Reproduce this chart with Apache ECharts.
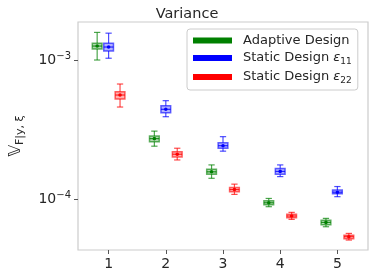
<!DOCTYPE html>
<html><head><meta charset="utf-8">
<script src="https://cdn.jsdelivr.net/npm/echarts@6/dist/echarts.min.js"></script>
<style>html,body{margin:0;padding:0;background:#fff}#c{width:374px;height:279px}</style>
</head><body><div id="c"></div>
<script>
// categories
const categories = [1, 2, 3, 4, 5];
// each entry: [whiskerLow, q1, median, q3, whiskerHigh]
const adaptive = [
  [1.00e-3, 1.20e-3, 1.26e-3, 1.32e-3, 1.58e-3],
  [2.40e-4, 2.58e-4, 2.72e-4, 2.84e-4, 3.08e-4],
  [1.41e-4, 1.51e-4, 1.57e-4, 1.64e-4, 1.76e-4],
  [8.81e-5, 9.10e-5, 9.40e-5, 9.72e-5, 1.01e-4],
  [6.32e-5, 6.53e-5, 6.79e-5, 7.03e-5, 7.26e-5]
];
const static11 = [
  [1.03e-3, 1.16e-3, 1.24e-3, 1.32e-3, 1.56e-3],
  [3.91e-4, 4.18e-4, 4.42e-4, 4.69e-4, 5.10e-4],
  [2.21e-4, 2.32e-4, 2.42e-4, 2.54e-4, 2.81e-4],
  [1.45e-4, 1.51e-4, 1.58e-4, 1.66e-4, 1.76e-4],
  [1.04e-4, 1.09e-4, 1.12e-4, 1.16e-4, 1.23e-4]
];
const static22 = [
  [4.59e-4, 5.24e-4, 5.60e-4, 5.92e-4, 6.72e-4],
  [1.91e-4, 2.01e-4, 2.10e-4, 2.19e-4, 2.32e-4],
  [1.08e-4, 1.13e-4, 1.17e-4, 1.21e-4, 1.28e-4],
  [7.14e-5, 7.33e-5, 7.55e-5, 7.76e-5, 8.02e-5],
  [5.07e-5, 5.18e-5, 5.36e-5, 5.50e-5, 5.66e-5]
];
const seriesNames = ['Adaptive Design', 'Static Design ε11', 'Static Design ε22'];
const yTicks = [1e-4, 1e-3];
const xTicks = [1, 2, 3, 4, 5];

const colors = ['0,128,0', '0,0,255', '255,0,0'];
const offsets = [-0.2, 0, 0.2];
const FONT = 'DejaVu Sans';

function makeSeries(idx, arr) {
  const data = arr.map((d, i) => [categories[i] + offsets[idx]].concat(d));
  const rgb = colors[idx];
  return {
    name: seriesNames[idx],
    type: 'custom',
    itemStyle: { color: 'rgb(' + rgb + ')' },
    data: data,
    encode: { x: 0, y: [1, 2, 3, 4, 5] },
    renderItem: function (params, api) {
      const x = api.value(0);
      const lo = api.coord([x, api.value(1)]);
      const q1 = api.coord([x, api.value(2)]);
      const md = api.coord([x, api.value(3)]);
      const q3 = api.coord([x, api.value(4)]);
      const hi = api.coord([x, api.value(5)]);
      const bw = api.size([0.17, 0])[0];
      const cw = api.size([0.11, 0])[0];
      const cx = md[0];
      const lineC = 'rgba(' + rgb + ',0.7)';
      const edgeC = 'rgba(' + rgb + ',0.6)';
      const ls = { stroke: lineC, lineWidth: 1.2 };
      return {
        type: 'group',
        children: [
          { type: 'line', shape: { x1: cx, y1: hi[1], x2: cx, y2: q3[1] }, style: ls },
          { type: 'line', shape: { x1: cx, y1: q1[1], x2: cx, y2: lo[1] }, style: ls },
          { type: 'line', shape: { x1: cx - cw / 2, y1: hi[1], x2: cx + cw / 2, y2: hi[1] }, style: ls },
          { type: 'line', shape: { x1: cx - cw / 2, y1: lo[1], x2: cx + cw / 2, y2: lo[1] }, style: ls },
          { type: 'rect', shape: { x: cx - bw / 2, y: q3[1], width: bw, height: q1[1] - q3[1] },
            style: { fill: 'rgba(' + rgb + ',0.3)', stroke: edgeC, lineWidth: 1.5 } },
          { type: 'line', shape: { x1: cx - bw / 2, y1: md[1], x2: cx + bw / 2, y2: md[1] },
            style: { stroke: 'rgba(' + rgb + ',0.8)', lineWidth: 1.2 } },
          { type: 'circle', shape: { cx: cx, cy: md[1], r: 1.8 }, style: { fill: 'rgb(' + rgb + ')' } }
        ]
      };
    }
  };
}

const chart = echarts.init(document.getElementById('c'), null, { renderer: 'canvas' });
chart.setOption({
  animation: false,
  textStyle: { fontFamily: FONT },
  title: {
    text: 'Variance', left: 'center', top: 2,
    textStyle: { fontFamily: FONT, fontSize: 14.5, fontWeight: 'normal', color: '#262626' }
  },
  grid: {
    left: 70, right: 6, top: 22, bottom: 29,
    show: true, borderColor: '#cccccc', borderWidth: 1.2, backgroundColor: '#fff'
  },
  legend: {
    orient: 'vertical', left: 187, top: 29,
    itemWidth: 39, itemHeight: 6, itemGap: 4,
    icon: 'rect',
    padding: [5, 6, 5, 6],
    borderColor: '#cccccc', borderWidth: 1, borderRadius: 3,
    backgroundColor: '#fff',
    data: seriesNames.map((n, i) => ({ name: n, itemStyle: { color: 'rgb(' + colors[i] + ')' } })),
    formatter: function (n) {
      const m = n.match(/^(.*)ε(\d+)$/);
      if (m) return '{t|' + m[1] + '}{e|ε}{s|' + m[2] + '}';
      return '{t|' + n + '}';
    },
    textStyle: {
      fontFamily: FONT, fontSize: 13, color: '#262626', padding: [0, 0, 0, 6],
      rich: {
        t: { fontFamily: FONT, fontSize: 13, color: '#262626', lineHeight: 16 },
        e: { fontFamily: FONT, fontSize: 13, fontStyle: 'italic', color: '#262626', lineHeight: 16 },
        s: { fontFamily: FONT, fontSize: 9, color: '#262626', verticalAlign: 'bottom', padding: [6, 0, 0, 0], lineHeight: 16 }
      }
    }
  },
  xAxis: {
    type: 'value', min: 0.465, max: 5.535,
    splitLine: { show: false },
    axisLine: { show: false },
    axisTick: { show: true, customValues: xTicks, length: 4, lineStyle: { color: '#555', width: 1 } },
    axisLabel: { customValues: xTicks, fontFamily: FONT, fontSize: 14, color: '#262626', margin: 7 }
  },
  yAxis: {
    type: 'log', logBase: 10, min: 4.30e-5, max: 1.877e-3,
    splitLine: { show: false },
    minorTick: { show: false },
    axisLine: { show: false },
    axisTick: { show: true, customValues: yTicks, length: 4, lineStyle: { color: '#555', width: 1 } },
    axisLabel: {
      customValues: yTicks, margin: 7,
      fontFamily: FONT, fontSize: 14, color: '#262626',
      formatter: function (v) {
        const e = Math.round(Math.log10(v));
        return '{b|10}{p|' + (e < 0 ? '−' : '') + Math.abs(e) + '}';
      },
      rich: {
        b: { fontFamily: FONT, fontSize: 14, color: '#262626' },
        p: { fontFamily: FONT, fontSize: 10, color: '#262626', verticalAlign: 'top', padding: [0, 0, 8, 0] }
      }
    },
    name: '{v|𝕍}{s|F|y, ξ}',
    nameLocation: 'middle', nameGap: 52, nameRotate: 90,
    nameTextStyle: {
      rich: {
        v: { fontFamily: FONT, fontSize: 16, color: '#262626' },
        s: { fontFamily: FONT, fontSize: 11, color: '#262626', padding: [9, 0, 0, 0] }
      }
    }
  },
  series: [makeSeries(0, adaptive), makeSeries(1, static11), makeSeries(2, static22)]
});
</script>
</body></html>
